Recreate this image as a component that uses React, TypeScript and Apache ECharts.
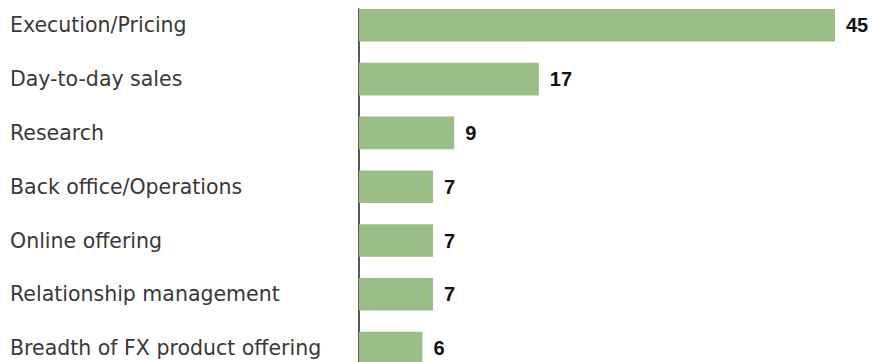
import React, { useEffect, useRef } from "react";
import * as echarts from "echarts";

const categories = [
  "Execution/Pricing",
  "Day-to-day sales",
  "Research",
  "Back office/Operations",
  "Online offering",
  "Relationship management",
  "Breadth of FX product offering",
];
const values = [45, 17, 9, 7, 7, 7, 6];

export default function App() {
  const ref = useRef<HTMLDivElement>(null);
  useEffect(() => {
    if (!ref.current) return;
    const chart = echarts.init(ref.current, null, { renderer: "svg" });
    chart.setOption({
      animation: false,
      grid: [
        { left: 359, width: 476, top: -1.6, height: 376.6, containLabel: false, outerBoundsMode: "none" },
        { left: 359, width: 476, top: 9, height: 353, containLabel: false, outerBoundsMode: "none" },
      ],
      xAxis: [
        { type: "value", gridIndex: 0, min: 0, max: 45, show: false },
        { type: "value", gridIndex: 1, min: 0, max: 45, show: false },
      ],
      yAxis: [
        {
          type: "category",
          gridIndex: 0,
          data: categories,
          inverse: true,
          axisLine: { show: false },
          axisTick: { show: false },
          axisLabel: {
            align: "left",
            margin: 349,
            fontFamily: "DejaVu Sans",
            fontSize: 20.5,
            color: "#383838",
          },
        },
        {
          type: "category",
          gridIndex: 1,
          data: categories,
          axisLine: { show: true, lineStyle: { color: "#222222", width: 1.5 } },
          axisTick: { show: false },
          axisLabel: { show: false },
        },
      ],
      series: [
        {
          type: "bar",
          xAxisIndex: 0,
          yAxisIndex: 0,
          data: values,
          barWidth: 32.6,
          itemStyle: { color: "#9bbe86" },
          label: {
            show: true,
            position: "right",
            distance: 11,
            fontFamily: "Liberation Sans",
            fontWeight: "bold",
            fontSize: 20,
            color: "#111111",
          },
        },
      ],
    });
    return () => chart.dispose();
  }, []);
  return <div ref={ref} style={{ width: 875, height: 362, position: "absolute", left: 0, top: 0 }} />;
}
